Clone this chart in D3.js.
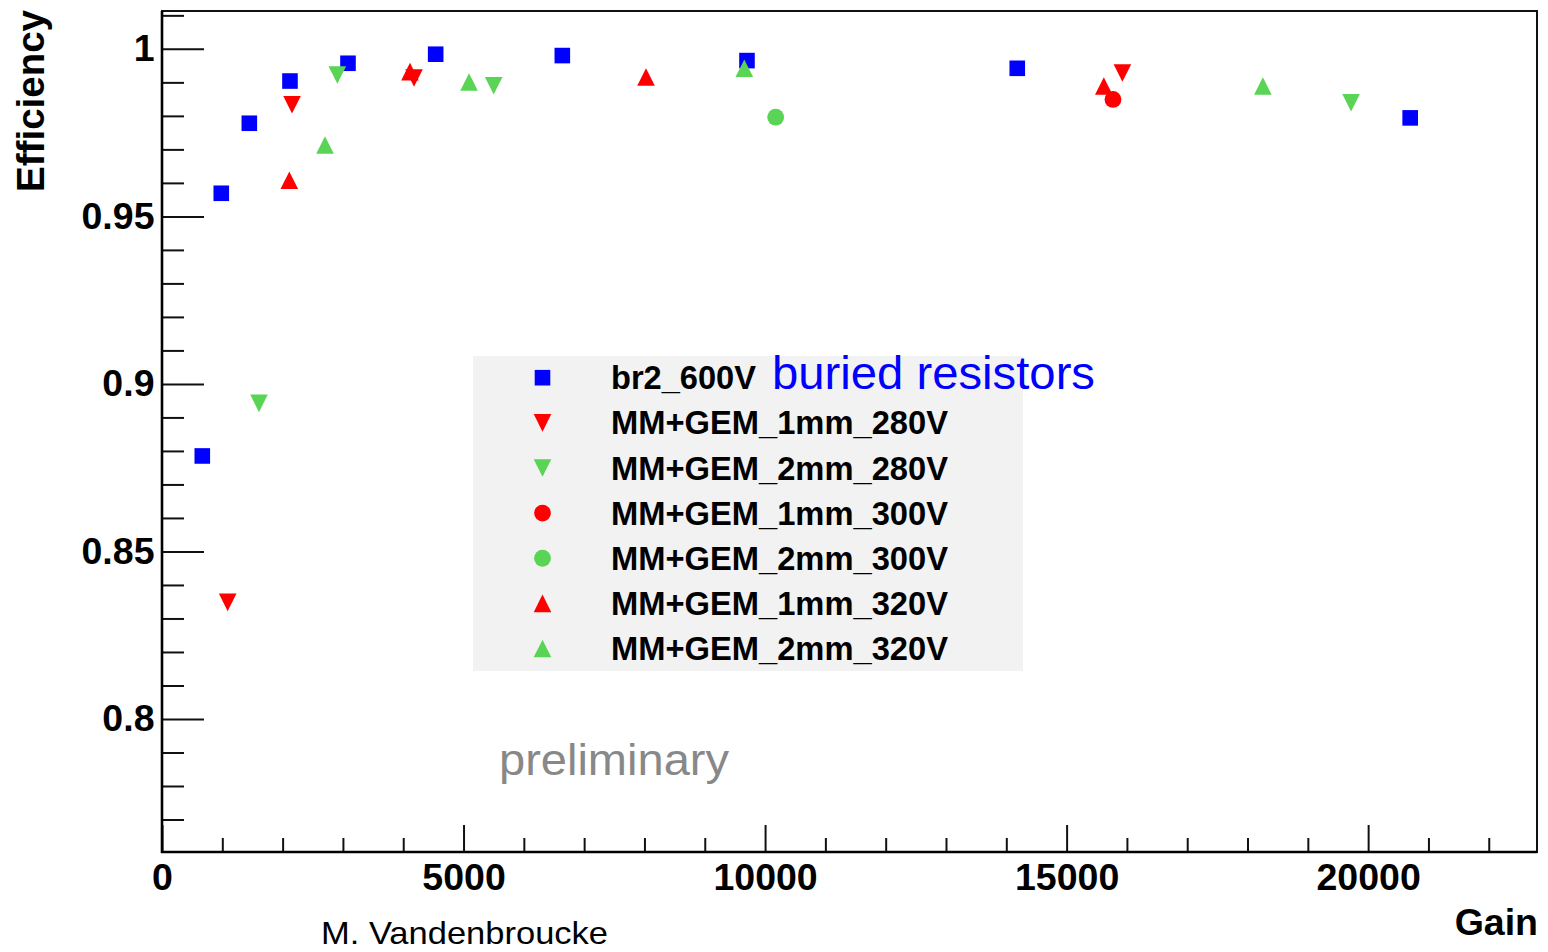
<!DOCTYPE html>
<html>
<head>
<meta charset="utf-8">
<script src="https://cdn.jsdelivr.net/npm/d3@7/dist/d3.min.js"></script>
<style>
  html, body { margin: 0; padding: 0; background: #fff; }
  svg { display: block; }
  text { font-family: "Liberation Sans", Arial, Helvetica, sans-serif; }
</style>
</head>
<body>
<svg id="chart" width="1548" height="952"></svg>
<script>
// ---------------- data ----------------
const seriesNames = ["br2_600V", "MM+GEM_1mm_280V", "MM+GEM_2mm_280V", "MM+GEM_1mm_300V",
                     "MM+GEM_2mm_300V", "MM+GEM_1mm_320V", "MM+GEM_2mm_320V"];
const seriesColors = ["#0000ff", "#ff0000", "#59d454", "#ff0000", "#59d454", "#ff0000", "#59d454"];
const seriesShapes = ["square", "down", "down", "circle", "circle", "up", "up"];

const br2_600V_gain = [668, 983, 1448, 2122, 3084, 4538, 6638, 9700, 14182, 20697];
const br2_600V_eff  = [0.8785, 0.9569, 0.9778, 0.9904, 0.9957, 0.9984, 0.9980, 0.9965, 0.9942, 0.9794];

const mm1_280_gain = [1089, 2156, 4179, 15925];
const mm1_280_eff  = [0.8348, 0.9833, 0.9913, 0.9928];

const mm2_280_gain = [1608, 2907, 5500, 19717];
const mm2_280_eff  = [0.8942, 0.9922, 0.9890, 0.9839];

const mm1_300_gain = [15769];
const mm1_300_eff  = [0.9849];

const mm2_300_gain = [10176];
const mm2_300_eff  = [0.9796];

const mm1_320_gain = [2111, 4112, 8026, 15617];
const mm1_320_eff  = [0.9608, 0.9932, 0.9916, 0.9889];

const mm2_320_gain = [2703, 5091, 9656, 18254];
const mm2_320_eff  = [0.9713, 0.9901, 0.9942, 0.9889];

const seriesGain = [br2_600V_gain, mm1_280_gain, mm2_280_gain, mm1_300_gain, mm2_300_gain, mm1_320_gain, mm2_320_gain];
const seriesEff  = [br2_600V_eff, mm1_280_eff, mm2_280_eff, mm1_300_eff, mm2_300_eff, mm1_320_eff, mm2_320_eff];

const xDomain = [0, 22800];
const yDomain = [0.7603, 1.0113];
const xMajorTicks = [0, 5000, 10000, 15000, 20000];
const xTickLabels = ["0", "5000", "10000", "15000", "20000"];
const yMajorTicks = [0.8, 0.85, 0.9, 0.95, 1];
const yTickLabels = ["0.8", "0.85", "0.9", "0.95", "1"];
const xMinorStep = 1000;
const yMinorStep = 0.01;

// ---------------- layout ----------------
const svg = d3.select("#chart");
const L = 162, R = 1537, T = 11, B = 852;
const x = d3.scaleLinear().domain(xDomain).range([L, R]);
const y = d3.scaleLinear().domain(yDomain).range([B, T]);

const tickColor = "#111";
const labelFont = 37.5;

// frame
svg.append("rect").attr("x", L).attr("y", T).attr("width", R - L).attr("height", B - T)
  .attr("fill", "none").attr("stroke", "#111").attr("stroke-width", 2);

// minor ticks
const xMinor = d3.range(Math.ceil(xDomain[0] / xMinorStep) * xMinorStep, xDomain[1] + 1e-9, xMinorStep)
  .filter(v => !xMajorTicks.some(m => Math.abs(m - v) < 1e-6));
const yMinor = d3.range(0, 200).map(i => Math.round((0.77 + i * yMinorStep) * 1000) / 1000)
  .filter(v => v <= yDomain[1] && !yMajorTicks.some(m => Math.abs(m - v) < 1e-6));

const gx = svg.append("g").attr("transform", `translate(0,${B})`);
gx.call(d3.axisBottom(x).tickValues(xMinor).tickSize(-14).tickFormat(""));
gx.append("g").call(d3.axisBottom(x).tickValues(xMajorTicks).tickSize(-27).tickPadding(11)
  .tickFormat((d, i) => xTickLabels[i]));
gx.selectAll(".domain").remove();
gx.selectAll("line").attr("stroke", tickColor).attr("stroke-width", 2);
gx.selectAll("text").attr("font-size", labelFont).attr("font-weight", "bold").attr("fill", "#000")
  .attr("font-family", '"Liberation Sans", Arial, sans-serif');

const gy = svg.append("g").attr("transform", `translate(${L},0)`);
gy.call(d3.axisLeft(y).tickValues(yMinor).tickSize(-22).tickFormat(""));
gy.append("g").call(d3.axisLeft(y).tickValues(yMajorTicks).tickSize(-42).tickPadding(7.5)
  .tickFormat((d, i) => yTickLabels[i]));
gy.selectAll(".domain").remove();
gy.selectAll("line").attr("stroke", tickColor).attr("stroke-width", 2);
gy.selectAll("text").attr("font-size", labelFont).attr("font-weight", "bold").attr("fill", "#000")
  .attr("font-family", '"Liberation Sans", Arial, sans-serif');

// axis lines (slightly heavier)
svg.append("line").attr("x1", L).attr("x2", L).attr("y1", T).attr("y2", B + 1)
  .attr("stroke", "#000").attr("stroke-width", 2.6);
svg.append("line").attr("x1", L - 1).attr("x2", R).attr("y1", B).attr("y2", B)
  .attr("stroke", "#000").attr("stroke-width", 2.6);

// axis titles
svg.append("text").attr("transform", `translate(43.5,${T - 1}) rotate(-90)`)
  .attr("text-anchor", "end").attr("font-size", 38.5).attr("font-weight", "bold").text("Efficiency");
svg.append("text").attr("x", 1538).attr("y", 935).attr("text-anchor", "end")
  .attr("font-size", 37.5).attr("font-weight", "bold").text("Gain");

// ---------------- markers ----------------
function markerPath(shape) {
  const s = 7.8, t = 8.8, r = 8.4;
  if (shape === "square") return `M${-s},${-s}H${s}V${s}H${-s}Z`;
  if (shape === "up") return `M${-t},${t}L${t},${t}L0,${-t}Z`;
  if (shape === "down") return `M${-t},${-t}L${t},${-t}L0,${t}Z`;
  return d3.arc()({innerRadius: 0, outerRadius: r, startAngle: 0, endAngle: 2 * Math.PI});
}

// legend box
const legX0 = 473, legY0 = 356, legX1 = 1023, legY1 = 671;
svg.append("rect").attr("x", legX0).attr("y", legY0).attr("width", legX1 - legX0).attr("height", legY1 - legY0)
  .attr("fill", "#f2f2f2");

const legRowY = d3.scaleLinear().domain([0, seriesNames.length - 1]).range([377.7, 648.5]);
const legend = svg.append("g");
seriesNames.forEach((name, i) => {
  const gy0 = legRowY(i);
  legend.append("path").attr("d", markerPath(seriesShapes[i]))
    .attr("transform", `translate(542.5,${gy0})`).attr("fill", seriesColors[i]);
  const t = legend.append("text").attr("x", 611).attr("y", gy0).attr("dy", "0.35em")
    .attr("font-size", 33).attr("font-weight", "bold").attr("fill", "#000").text(name);
  if (name.length > 10) t.attr("textLength", 337).attr("lengthAdjust", "spacingAndGlyphs");
  else t.attr("textLength", 145).attr("lengthAdjust", "spacingAndGlyphs");
});

// points
const plot = svg.append("g");
seriesNames.forEach((name, i) => {
  const pts = seriesGain[i].map((g, j) => ({g: g, e: seriesEff[i][j]}));
  plot.append("g").selectAll("path").data(pts).join("path")
    .attr("d", markerPath(seriesShapes[i]))
    .attr("transform", d => `translate(${x(d.g)},${y(d.e)})`)
    .attr("fill", seriesColors[i]);
});

// annotations
svg.append("text").attr("x", 772).attr("y", 389).attr("font-size", 47).attr("fill", "#0000ff")
  .attr("textLength", 323).attr("lengthAdjust", "spacingAndGlyphs").text("buried resistors");
svg.append("text").attr("x", 499).attr("y", 775).attr("font-size", 44).attr("fill", "#888888")
  .attr("textLength", 230).attr("lengthAdjust", "spacingAndGlyphs").text("preliminary");
svg.append("text").attr("x", 321).attr("y", 944).attr("font-size", 32).attr("fill", "#000")
  .attr("textLength", 287).attr("lengthAdjust", "spacingAndGlyphs").text("M. Vandenbroucke");
</script>
</body>
</html>
